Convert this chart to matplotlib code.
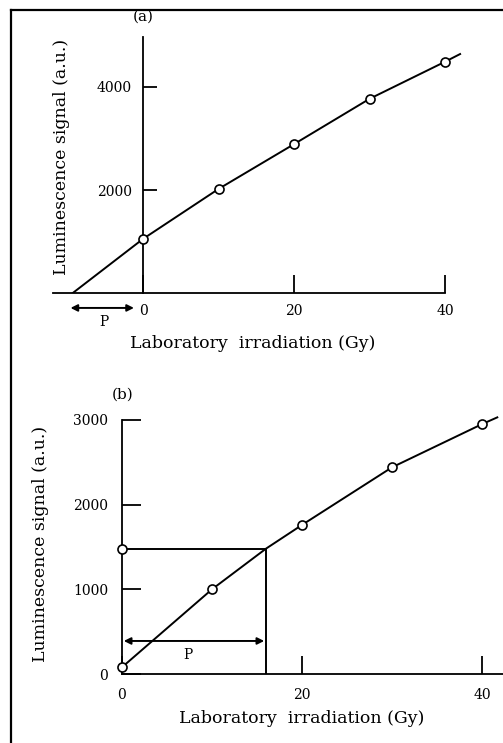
import matplotlib
matplotlib.use('Agg')
import matplotlib.pyplot as plt
from matplotlib.lines import Line2D

W, H = 503, 743

# panel (a): additive dose
a_dose = [0, 10, 20, 30, 40]
a_signal = [1050, 2020, 2890, 3770, 4490]
a_fit_dose = [-9.3, 0, 10, 20, 30, 40, 42]
a_fit_signal = [0, 1050, 2020, 2890, 3770, 4490, 4640]
a_yticks = [2000, 4000]
a_xticks = [0, 20, 40]

# panel (b): regeneration
b_dose = [0, 10, 20, 30, 40]
b_signal = [80, 1000, 1760, 2440, 2950]
b_fit_dose = [0, 10, 16, 20, 30, 40, 41.7]
b_fit_signal = [80, 1000, 1480, 1760, 2440, 2950, 3030]
b_natural = 1480
b_equiv = 16
b_yticks = [0, 1000, 2000, 3000]
b_xticks = [0, 20, 40]

plt.rcParams['font.family'] = ['DejaVu Serif']

fig = plt.figure(figsize=(W / 100, H / 100), dpi=100)


def rect(left, top, right, bottom):
    return [left / W, 1 - bottom / H, (right - left) / W, (bottom - top) / H]


def style(ax, xb, yb, xt, yt, ylen, xlen, ypad, xpad):
    for s in ('top', 'right'):
        ax.spines[s].set_visible(False)
    ax.spines['left'].set_position(('data', 0))
    ax.spines['left'].set_bounds(*yb)
    ax.spines['bottom'].set_bounds(*xb)
    for s in ('left', 'bottom'):
        ax.spines[s].set_linewidth(1.3)
    ax.set_xticks(xt)
    ax.set_yticks(yt)
    ax.tick_params(axis='y', direction='in', length=ylen, width=1.3, pad=ypad, labelsize=10)
    ax.tick_params(axis='x', direction='in', length=xlen, width=1.3, pad=xpad, labelsize=10)
    ax.set_facecolor('none')


# ---- (a)
ax = fig.add_axes(rect(40, 25, 480, 293))
ax.set_xlim((40 - 143) / 7.55, (480 - 143) / 7.55)
ax.set_ylim(0, (293 - 25) / 103 * 2000)
style(ax, ((53 - 143) / 7.55, 40), (0, 4970), a_xticks, a_yticks, 10, 13, 8, 8)
ax.plot(a_fit_dose, a_fit_signal, color='black', lw=1.4, zorder=2)
ax.plot(a_dose, a_signal, 'o', ms=6.5, mfc='white', mec='black', mew=1.2, zorder=3)
ax.annotate('', xy=(-9.6, -290), xytext=(-1.2, -290), annotation_clip=False,
            arrowprops=dict(arrowstyle='<|-|>', color='black', lw=1.4,
                            mutation_scale=10, shrinkA=0, shrinkB=0))
ax.text(-5.2, -560, 'P', ha='center', va='center', fontsize=10, clip_on=False)
ax.set_xlabel('Laboratory  irradiation (Gy)', fontsize=12.5, va='center')
ax.xaxis.set_label_coords(0.484, -0.187)
ax.set_ylabel('Luminescence signal (a.u.)', fontsize=12.5, va='center', ha='center')
ax.yaxis.set_label_coords(0.05, 0.507)
fig.text(143 / W, 1 - 17 / H, '(a)', ha='center', va='center', fontsize=11)

# ---- (b)
bx = fig.add_axes(rect(110, 410, 503, 674))
bx.set_xlim((110 - 122) / 9, (503 - 122) / 9)
bx.set_ylim(0, (674 - 410) / 84.7 * 1000)
style(bx, (0, (503 - 122) / 9), (0, 3000), b_xticks, b_yticks, 14, 13, 10, 10)
bx.plot(b_fit_dose, b_fit_signal, color='black', lw=1.4, zorder=2)
bx.plot([0, b_equiv, b_equiv], [b_natural, b_natural, 0], color='black', lw=1.4, zorder=2)
bx.plot(b_dose, b_signal, 'o', ms=6.5, mfc='white', mec='black', mew=1.2, zorder=3,
        clip_on=False)
bx.plot([0], [b_natural], 'o', ms=6.5, mfc='white', mec='black', mew=1.2, zorder=3,
        clip_on=False)
bx.annotate('', xy=(0.2, 390), xytext=(b_equiv - 0.2, 390),
            arrowprops=dict(arrowstyle='<|-|>', color='black', lw=1.4,
                            mutation_scale=10, shrinkA=0, shrinkB=0))
bx.text(7.3, 225, 'P', ha='center', va='center', fontsize=10)
bx.set_xlabel('Laboratory  irradiation (Gy)', fontsize=12.5, va='center')
bx.xaxis.set_label_coords(0.4885, -0.1667)
bx.set_ylabel('Luminescence signal (a.u.)', fontsize=12.5, va='center', ha='center')
bx.yaxis.set_label_coords(-0.178, 0.492)
fig.text(123 / W, 1 - 395 / H, '(b)', ha='center', va='center', fontsize=11)

# frame (top and left edges only)
fig.add_artist(Line2D([11 / W, 1], [1 - 10 / H, 1 - 10 / H], color='black', lw=1.6,
                      transform=fig.transFigure))
fig.add_artist(Line2D([11 / W, 11 / W], [1 - 10 / H, 0], color='black', lw=1.6,
                      transform=fig.transFigure))

fig.savefig('out.png', dpi=100)
